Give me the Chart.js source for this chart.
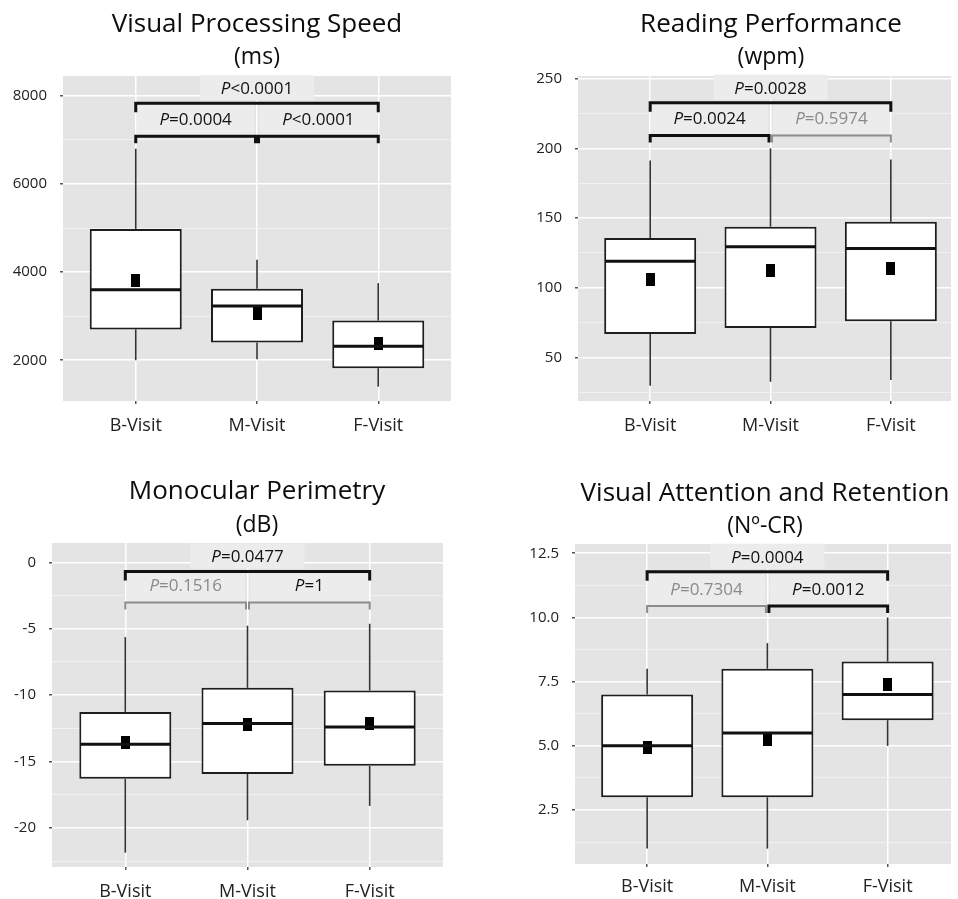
<!DOCTYPE html>
<html>
<head>
<meta charset="utf-8">
<script src="https://cdn.jsdelivr.net/npm/chart.js@4.4.1/dist/chart.umd.min.js"></script>
<style>
body { margin: 0; background: #fff; width: 958px; height: 899px; overflow: hidden; position: relative; }
.panel { position: absolute; }
</style>
</head>
<body>
<div class="panel" style="left:0;top:0"><canvas id="c1" width="479" height="450"></canvas></div>
<div class="panel" style="left:479px;top:0"><canvas id="c2" width="479" height="450"></canvas></div>
<div class="panel" style="left:0;top:450px"><canvas id="c3" width="479" height="449"></canvas></div>
<div class="panel" style="left:479px;top:450px"><canvas id="c4" width="479" height="449"></canvas></div>
<script>
var categories = ['B-Visit', 'M-Visit', 'F-Visit'];
// pairs compared by the brackets: B-F, B-M, M-F
var pairs = [[1, 3], [1, 2], [2, 3]];

// Visual Processing Speed (ms)
var vpsMin    = [2000, 2020, 1400];
var vpsQ1     = [2700, 2400, 1820];
var vpsMedian = [3600, 3230, 2320];
var vpsQ3     = [4980, 3620, 2900];
var vpsMax    = [6800, 4280, 3750];
var vpsMean   = [3820, 3060, 2380];
var vpsTicks  = [2000, 4000, 6000, 8000];
var vpsTickLabels = ['2000', '4000', '6000', '8000'];
var vpsMinorTicks = [3000, 5000, 7000];
var vpsPLabels = ['P<0.0001', 'P=0.0004', 'P<0.0001'];
var vpsPLevels = [7830, 7080, 7080];
var vpsLineGrey = [false, false, false];
var vpsTextGrey = [false, false, false];

// Reading Performance (wpm)
var rpMin    = [29.6, 32.4, 33.6];
var rpQ1     = [66.7, 71, 75.9];
var rpMedian = [119, 129.4, 128.2];
var rpQ3     = [135.6, 143.8, 147.3];
var rpMax    = [191.4, 200, 192];
var rpMean   = [105.5, 112.2, 113.9];
var rpTicks  = [50, 100, 150, 200, 250];
var rpTickLabels = ['50', '100', '150', '200', '250'];
var rpMinorTicks = [25, 75, 125, 175, 225];
var rpPLabels = ['P=0.0028', 'P=0.0024', 'P=0.5974'];
var rpPLevels = [232.8, 209.3, 209.3];
var rpLineGrey = [false, false, true];
var rpTextGrey = [false, false, true];

// Monocular Perimetry (dB)
var mpMin    = [-21.86, -19.42, -18.34];
var mpQ1     = [-16.3, -15.93, -15.32];
var mpMedian = [-13.7, -12.14, -12.4];
var mpQ3     = [-11.26, -9.45, -9.65];
var mpMax    = [-5.63, -4.77, -4.62];
var mpMean   = [-13.6, -12.2, -12.14];
var mpTicks  = [-20, -15, -10, -5, 0];
var mpTickLabels = ['-20', '-15', '-10', '-5', '0'];
var mpMinorTicks = [-22.5, -17.5, -12.5, -7.5, -2.5];
var mpPLabels = ['P=0.0477', 'P=0.1516', 'P=1'];
var mpPLevels = [-0.68, -3.02, -3.02];
var mpLineGrey = [false, true, true];
var mpTextGrey = [false, true, false];

// Visual Attention and Retention (Nº-CR)
var varMin    = [1, 1, 5];
var varQ1     = [3, 3, 6];
var varMedian = [5, 5.5, 7];
var varQ3     = [7, 8, 8.28];
var varMax    = [8, 9, 10];
var varMean   = [4.95, 5.23, 7.38];
var varTicks  = [2.5, 5, 7.5, 10, 12.5];
var varTickLabels = ['2.5', '5.0', '7.5', '10.0', '12.5'];
var varMinorTicks = [1.25, 3.75, 6.25, 8.75, 11.25];
var varPLabels = ['P=0.0004', 'P=0.7304', 'P=0.0012'];
var varPLevels = [11.78, 10.45, 10.45];
var varLineGrey = [false, true, false];
var varTextGrey = [false, true, false];

var PANEL_BG = '#e4e4e4';
var LABEL_BG = '#ececec';
var FONT = '"Open Sans"';

Chart.defaults.font.family = FONT;

function points(vals) {
    return vals.map(function (v, i) { return { x: i + 1, y: v }; });
}

function floating(lo, hi) {
    return lo.map(function (v, i) { return { x: i + 1, y: [v, hi[i]] }; });
}

function meanMarker() {
    var c = document.createElement('canvas');
    c.width = 9;
    c.height = 13;
    var g = c.getContext('2d');
    g.fillStyle = '#000';
    g.fillRect(0, 0, 9, 13);
    return c;
}

function drawPValue(ctx, text, cx, baseline, color) {
    var head = text.charAt(0), rest = text.slice(1);
    ctx.font = 'italic 17px ' + FONT;
    var w1 = ctx.measureText(head).width;
    ctx.font = '17px ' + FONT;
    var w2 = ctx.measureText(rest).width;
    var x = cx - (w1 + w2) / 2;
    ctx.fillStyle = color;
    ctx.textAlign = 'left';
    ctx.textBaseline = 'alphabetic';
    ctx.font = 'italic 17px ' + FONT;
    ctx.fillText(head, x, baseline);
    ctx.font = '17px ' + FONT;
    ctx.fillText(rest, x + w1, baseline);
}

function decorPlugin(cfg) {
    function bracketX(chart, i) {
        var xs = chart.scales.x;
        var x1 = xs.getPixelForValue(pairs[i][0]);
        var x2 = xs.getPixelForValue(pairs[i][1]);
        // the two short brackets meet at M-Visit, leave a hair between them
        if (i == 1) x2 -= 1.5;
        if (i == 2) x1 += 1.5;
        return [x1, x2];
    }
    return {
        id: 'decor',
        beforeDraw: function (chart) {
            var a = chart.chartArea, ctx = chart.ctx;
            ctx.save();
            ctx.fillStyle = PANEL_BG;
            ctx.fillRect(a.left, a.top, a.right - a.left, a.bottom - a.top);
            ctx.restore();
        },
        beforeDatasetsDraw: function (chart) {
            var ctx = chart.ctx, ys = chart.scales.y;
            var yBig = ys.getPixelForValue(cfg.pLevels[0]);
            ctx.save();
            ctx.fillStyle = LABEL_BG;
            var xb = bracketX(chart, 0);
            var base = yBig - 9;
            ctx.fillRect((xb[0] + xb[1]) / 2 - 57, base - 19, 114, 25);
            for (var i = 1; i < 3; i++) {
                var xx = bracketX(chart, i);
                var ySmall = ys.getPixelForValue(cfg.pLevels[i]);
                ctx.fillRect(xx[0] + 1, yBig + 2, xx[1] - xx[0] - 2, ySmall - yBig - 3);
            }
            ctx.restore();
        },
        afterDatasetsDraw: function (chart) {
            var ctx = chart.ctx, ys = chart.scales.y;
            ctx.save();
            // medians
            var meta = chart.getDatasetMeta(1);
            ctx.strokeStyle = '#111';
            ctx.lineWidth = 3;
            for (var i = 0; i < meta.data.length; i++) {
                var el = meta.data[i];
                var y = ys.getPixelForValue(cfg.median[i]);
                ctx.beginPath();
                ctx.moveTo(el.x - el.width / 2 + 1, y);
                ctx.lineTo(el.x + el.width / 2 - 1, y);
                ctx.stroke();
            }
            // brackets and p values
            for (var b = 0; b < 3; b++) {
                var xx = bracketX(chart, b);
                var yb = ys.getPixelForValue(cfg.pLevels[b]);
                var drop = b == 0 ? 9 : 7;
                ctx.strokeStyle = cfg.lineGrey[b] ? '#8c8c8c' : '#111';
                ctx.lineWidth = cfg.lineGrey[b] ? 2 : 3;
                ctx.lineJoin = 'miter';
                ctx.beginPath();
                ctx.moveTo(xx[0], yb + drop);
                ctx.lineTo(xx[0], yb);
                ctx.lineTo(xx[1], yb);
                ctx.lineTo(xx[1], yb + drop);
                ctx.stroke();
                drawPValue(ctx, cfg.pLabels[b], (xx[0] + xx[1]) / 2, yb - (b == 0 ? 9 : 11),
                    cfg.textGrey[b] ? '#8a8a8a' : '#111');
            }
            ctx.restore();
        },
        afterDraw: function (chart) {
            var ctx = chart.ctx;
            ctx.save();
            ctx.fillStyle = '#0d0d0d';
            ctx.textAlign = 'center';
            ctx.textBaseline = 'alphabetic';
            ctx.font = '26px ' + FONT;
            ctx.fillText(cfg.title, cfg.titleX, cfg.titleY);
            ctx.font = '23px ' + FONT;
            ctx.fillText(cfg.subtitle, cfg.titleX, cfg.subY);
            ctx.restore();
        }
    };
}

function buildChart(id, cfg) {
    var allTicks = cfg.ticks.concat(cfg.minorTicks).sort(function (a, b) { return a - b; });
    function isMinor(ctx) {
        return ctx.tick && cfg.minorTicks.indexOf(ctx.tick.value) >= 0;
    }
    return new Chart(document.getElementById(id), {
        type: 'bar',
        data: {
            datasets: [
                {
                    type: 'scatter',
                    data: points(cfg.mean),
                    pointStyle: meanMarker(),
                    pointRadius: 6
                },
                {
                    data: floating(cfg.q1, cfg.q3),
                    backgroundColor: '#fff',
                    borderColor: '#1e1e1e',
                    borderWidth: 2,
                    borderSkipped: false,
                    barThickness: 92,
                    grouped: false,
                    inflateAmount: 0
                },
                {
                    data: floating(cfg.min, cfg.q1),
                    backgroundColor: '#333',
                    borderWidth: 0,
                    barThickness: 1.6,
                    grouped: false,
                    inflateAmount: 0
                },
                {
                    data: floating(cfg.q3, cfg.max),
                    backgroundColor: '#333',
                    borderWidth: 0,
                    barThickness: 1.6,
                    grouped: false,
                    inflateAmount: 0
                }
            ]
        },
        options: {
            responsive: false,
            animation: false,
            events: [],
            layout: { padding: { left: 0, top: cfg.padTop, right: cfg.padRight, bottom: 0 } },
            plugins: { legend: { display: false }, tooltip: { enabled: false } },
            scales: {
                x: {
                    type: 'linear',
                    min: 0.4,
                    max: cfg.xMax,
                    offset: false,
                    afterBuildTicks: function (axis) {
                        axis.ticks = categories.map(function (c, i) { return { value: i + 1 }; });
                    },
                    afterFit: function (axis) { axis.height = cfg.xHeight; },
                    ticks: {
                        autoSkip: false,
                        maxRotation: 0,
                        padding: cfg.xPad,
                        color: '#222',
                        font: { size: 18 },
                        callback: function (v) { return categories[Math.round(v) - 1]; }
                    },
                    grid: { offset: false, color: '#fff', lineWidth: 1.5, tickColor: '#555', tickLength: 3, tickWidth: 1.5 },
                    border: { display: false }
                },
                y: {
                    type: 'linear',
                    min: cfg.yMin,
                    max: cfg.yMax,
                    afterBuildTicks: function (axis) {
                        axis.ticks = allTicks.map(function (v) { return { value: v }; });
                    },
                    afterFit: function (axis) { axis.width = cfg.yWidth; },
                    ticks: {
                        autoSkip: false,
                        padding: 13,
                        color: '#222',
                        font: { size: 15 },
                        callback: function (v) {
                            var k = cfg.ticks.indexOf(v);
                            return k >= 0 ? cfg.tickLabels[k] : '';
                        }
                    },
                    grid: {
                        color: function (ctx) { return isMinor(ctx) ? '#f1f1f1' : '#fff'; },
                        lineWidth: function (ctx) { return isMinor(ctx) ? 1 : 1.5; },
                        tickColor: function (ctx) { return isMinor(ctx) ? 'rgba(0,0,0,0)' : '#555'; },
                        tickLength: 3,
                        tickWidth: 1.5
                    },
                    border: { display: false }
                }
            }
        },
        plugins: [decorPlugin(cfg)]
    });
}

buildChart('c1', {
    min: vpsMin, q1: vpsQ1, median: vpsMedian, q3: vpsQ3, max: vpsMax, mean: vpsMean,
    ticks: vpsTicks, tickLabels: vpsTickLabels, minorTicks: vpsMinorTicks,
    pLabels: vpsPLabels, pLevels: vpsPLevels, lineGrey: vpsLineGrey, textGrey: vpsTextGrey,
    yMin: 1075, yMax: 8450, xMax: 3.6,
    padTop: 76, padRight: 28, yWidth: 63, xHeight: 49, xPad: 11,
    title: 'Visual Processing Speed', subtitle: '(ms)', titleX: 257, titleY: 32, subY: 64
});

buildChart('c2', {
    min: rpMin, q1: rpQ1, median: rpMedian, q3: rpQ3, max: rpMax, mean: rpMean,
    ticks: rpTicks, tickLabels: rpTickLabels, minorTicks: rpMinorTicks,
    pLabels: rpPLabels, pLevels: rpPLevels, lineGrey: rpLineGrey, textGrey: rpTextGrey,
    yMin: 18.6, yMax: 252, xMax: 3.5,
    padTop: 76, padRight: 0, yWidth: 99, xHeight: 49, xPad: 11,
    title: 'Reading Performance', subtitle: '(wpm)', titleX: 292, titleY: 32, subY: 64
});

buildChart('c3', {
    min: mpMin, q1: mpQ1, median: mpMedian, q3: mpQ3, max: mpMax, mean: mpMean,
    ticks: mpTicks, tickLabels: mpTickLabels, minorTicks: mpMinorTicks,
    pLabels: mpPLabels, pLevels: mpPLevels, lineGrey: mpLineGrey, textGrey: mpTextGrey,
    yMin: -22.94, yMax: 1.46, xMax: 3.6,
    padTop: 93, padRight: 36, yWidth: 52, xHeight: 32, xPad: 11,
    title: 'Monocular Perimetry', subtitle: '(dB)', titleX: 257, titleY: 49, subY: 82
});

buildChart('c4', {
    min: varMin, q1: varQ1, median: varMedian, q3: varQ3, max: varMax, mean: varMean,
    ticks: varTicks, tickLabels: varTickLabels, minorTicks: varMinorTicks,
    pLabels: varPLabels, pLevels: varPLevels, lineGrey: varLineGrey, textGrey: varTextGrey,
    yMin: 0.4, yMax: 12.86, xMax: 3.527,
    padTop: 94, padRight: 0, yWidth: 96, xHeight: 35, xPad: 9,
    title: 'Visual Attention and Retention', subtitle: '(N\u00ba-CR)', titleX: 286, titleY: 51, subY: 83
});
</script>
</body>
</html>
